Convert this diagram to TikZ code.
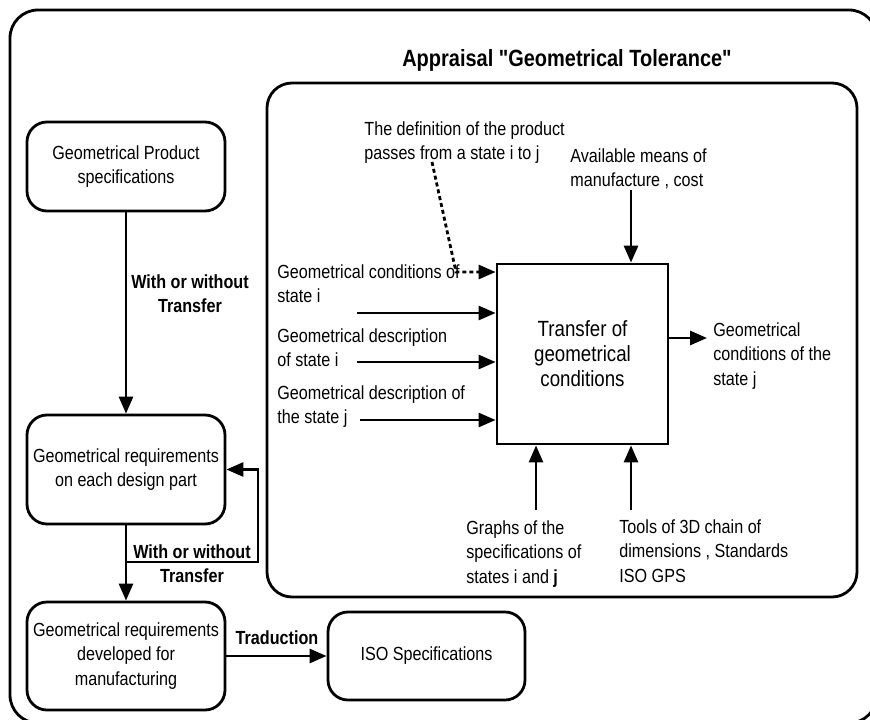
\documentclass[tikz,border=0pt]{standalone}
\usepackage{fontspec}
\setmainfont{Liberation Sans}[FakeStretch=0.85]
% same face without TeX ligatures, so that " stays a straight quote
\newfontfamily\plainsans{Liberation Sans}[FakeStretch=0.85]
\usetikzlibrary{arrows.meta}
\begin{document}
\begin{tikzpicture}[x=1pt,y=-1pt,
  line width=2.8pt,
  every node/.style={font=\fontsize{19}{24.5}\selectfont},
  frame/.style={draw, rounded corners=#1},
  blockbox/.style={draw, rounded corners=20pt, align=center, inner sep=0pt},
  label/.style={inner sep=0pt, align=left, anchor=north west},
  boldlabel/.style={inner sep=0pt, align=center, font=\fontsize{19}{24}\selectfont\bfseries},
  arr/.style={-{Triangle[length=17pt,width=14pt]}},
  dasharr/.style={arr, dash pattern=on 4pt off 3pt}]
\useasboundingbox (0,0) rectangle (870,720);

% outer and inner frames
\draw[frame=28pt] (10,10) rectangle (877,723);
\draw[frame=25pt] (267,83) rectangle (857,597);
\node[inner sep=0pt, font=\plainsans\fontsize{23.5}{26}\selectfont\bfseries] (title) at (567,60) {Appraisal "Geometrical Tolerance"};

% left column of blocks
\node[blockbox, minimum width=198pt, minimum height=89pt] (gps) at (126,166.5) {Geometrical Product\\specifications};
\node[blockbox, minimum width=198pt, minimum height=109pt] (req) at (126,469.5) {Geometrical requirements\\on each design part};
\node[blockbox, minimum width=198pt, minimum height=108pt] (man) at (126,656) {Geometrical requirements\\developed for\\manufacturing};
\node[blockbox, minimum width=197pt, minimum height=88pt] (iso) at (426.5,656) {ISO Specifications};

\draw[arr] (gps) -- (req);
\node[boldlabel] (w1) at (190,294) {With or without\\Transfer};
\draw[arr] (req) -- (man);
\coordinate (fb) at (126,562);
\draw[arr] (fb) -- (258,562) |- (req.east);
\node[boldlabel] (w2) at (192,563.5) {With or without\\Transfer};
\draw[arr] (man) -- (iso);
\node[boldlabel] (trad) at (277,638) {Traduction};

% central activity block
\node[draw, minimum width=171pt, minimum height=180pt, inner sep=0pt, align=center,
      font=\fontsize{22}{25}\selectfont] (tr) at (582.5,354) {Transfer of\\geometrical\\conditions};

% inputs, controls, mechanisms and output
\node[label] (def) at (363,120) {The definition of the product\\passes from a state i to j};
\node[label] (avail) at (569,147) {Available means of\\manufacture , cost};
\node[label] (gc) at (276,263) {Geometrical conditions of\\state i};
\node[label] (gd) at (276,327) {Geometrical description\\of state i};
\node[label] (gdj) at (276,384) {Geometrical description of\\the state j};
\node[label] (out) at (712,321) {Geometrical\\conditions of the\\state j};
\node[label] (graphs) at (465,519) {Graphs of the\\specifications of\\states i and \textbf{j}};
\node[label] (tools) at (618,518) {Tools of 3D chain of\\dimensions , Standards\\ISO GPS};

\coordinate (d0) at (432,162);
\coordinate (d1) at (456,272);
\draw[dasharr] (d0) -- (d1) -- (d1 -| tr.west);

\coordinate (i1) at (357,313);
\coordinate (i2) at (357,362);
\coordinate (i3) at (360,420);
\draw[arr] (i1) -- (i1 -| tr.west);
\draw[arr] (i2) -- (i2 -| tr.west);
\draw[arr] (i3) -- (i3 -| tr.west);

\coordinate (c1) at (631,190);
\draw[arr] (c1) -- (c1 |- tr.north);

\coordinate (m1) at (536,510);
\coordinate (m2) at (631,510);
\draw[arr] (m1) -- (m1 |- tr.south);
\draw[arr] (m2) -- (m2 |- tr.south);

\coordinate (o1) at (707,338);
\draw[arr] (tr.east |- o1) -- (o1);
\end{tikzpicture}
\end{document}
